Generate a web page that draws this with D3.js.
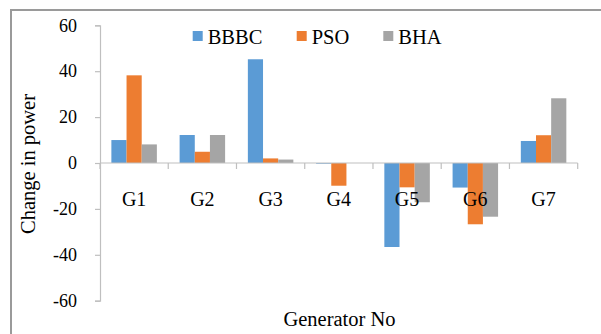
<!DOCTYPE html>
<html>
<head>
<meta charset="utf-8">
<script src="https://cdn.jsdelivr.net/npm/d3@7"></script>
<style>
  html, body { margin: 0; padding: 0; background: #fff; }
  svg { display: block; }
  text { font-family: "Liberation Serif", "Times New Roman", serif; fill: #000; }
</style>
</head>
<body>
<svg id="chart" width="601" height="334"></svg>
<script>
// Change in generator power output for each method
const generators = ["G1", "G2", "G3", "G4", "G5", "G6", "G7"];
const methods = ["BBBC", "PSO", "BHA"];
const bbbc = [10, 12.2, 45.2, -0.3, -36.6, -10.7, 9.6];
const pso  = [38.2, 4.9, 2.0, -9.9, -10.6, -26.7, 12.1];
const bha  = [8.1, 12.2, 1.5, 0, -17.1, -23.4, 28.2];
const yTicks = [-60, -40, -20, 0, 20, 40, 60];
const colors = ["#5b9bd5", "#ed7d31", "#a5a5a5"];

const seriesValues = [bbbc, pso, bha];

const svg = d3.select("#chart");

// outer frame
svg.append("path")
  .attr("d", "M11,334 V10 H601")
  .attr("fill", "none")
  .attr("stroke", "#9a9a9a")
  .attr("stroke-width", 2);

const plot = { left: 100, right: 577.7, top: 25.3, bottom: 300.7 };

const y = d3.scaleLinear().domain([-60, 60]).range([plot.bottom, plot.top]);
const x0 = d3.scaleBand().domain(generators).range([plot.left, plot.right]).paddingInner(0).paddingOuter(0);
// 150% gap between groups
const x1 = d3.scaleBand().domain(methods)
  .range([x0.bandwidth() * 0.75 / 4.5, x0.bandwidth() - x0.bandwidth() * 0.75 / 4.5]);

// y axis (plain hyphen for negatives)
const yAxis = svg.append("g")
  .attr("transform", `translate(${plot.left},0)`)
  .call(d3.axisLeft(y).tickValues(yTicks).tickSize(5).tickPadding(18).tickFormat(d => String(d)));
yAxis.select(".domain").attr("stroke", "#bfbfbf").attr("stroke-width", 1.2);
yAxis.selectAll(".tick line").attr("stroke", "#bfbfbf").attr("stroke-width", 1.2);
yAxis.selectAll(".tick text")
  .attr("font-size", 18)
  .attr("font-family", "Liberation Serif")
  .attr("fill", "#000");

// bars
const groups = svg.append("g").selectAll("g")
  .data(generators)
  .join("g")
  .attr("transform", d => `translate(${x0(d)},0)`);

groups.selectAll("rect")
  .data((g, i) => methods.map((m, k) => ({ m, v: seriesValues[k][i], k })))
  .join("rect")
  .attr("x", d => x1(d.m))
  .attr("width", x1.bandwidth())
  .attr("y", d => y(Math.max(0, d.v)))
  .attr("height", d => Math.abs(y(d.v) - y(0)))
  .attr("fill", d => colors[d.k]);

// category axis along zero line, ticks between categories
const xAxisG = svg.append("g");
xAxisG.append("line")
  .attr("x1", plot.left).attr("x2", plot.right)
  .attr("y1", y(0)).attr("y2", y(0))
  .attr("stroke", "#bfbfbf").attr("stroke-width", 1.2);
const boundaries = generators.map(g => x0(g)).concat([plot.right]);
xAxisG.selectAll("line.tk")
  .data(boundaries)
  .join("line")
  .attr("class", "tk")
  .attr("x1", d => d).attr("x2", d => d)
  .attr("y1", y(0)).attr("y2", y(0) + 6)
  .attr("stroke", "#bfbfbf").attr("stroke-width", 1.2);

xAxisG.selectAll("text")
  .data(generators)
  .join("text")
  .attr("x", d => x0(d) + x0.bandwidth() / 2)
  .attr("y", y(0) + 43)
  .attr("text-anchor", "middle")
  .attr("font-size", 20)
  .text(d => d);

// axis titles
svg.append("text")
  .attr("transform", `translate(35,164) rotate(-90)`)
  .attr("text-anchor", "middle")
  .attr("font-size", 20.5)
  .text("Change in power");

svg.append("text")
  .attr("x", 339.5)
  .attr("y", 326)
  .attr("text-anchor", "middle")
  .attr("font-size", 20.5)
  .text("Generator No");

// legend
const legendX = [192.7, 296.7, 383.3];
const legend = svg.append("g").selectAll("g")
  .data(methods)
  .join("g")
  .attr("transform", (d, i) => `translate(${legendX[i]},0)`);
legend.append("rect")
  .attr("x", 0).attr("y", 31)
  .attr("width", 10).attr("height", 10)
  .attr("fill", (d, i) => colors[i]);
legend.append("text")
  .attr("x", 15).attr("y", 43.5)
  .attr("font-size", 20.5)
  .text(d => d);
</script>
</body>
</html>
